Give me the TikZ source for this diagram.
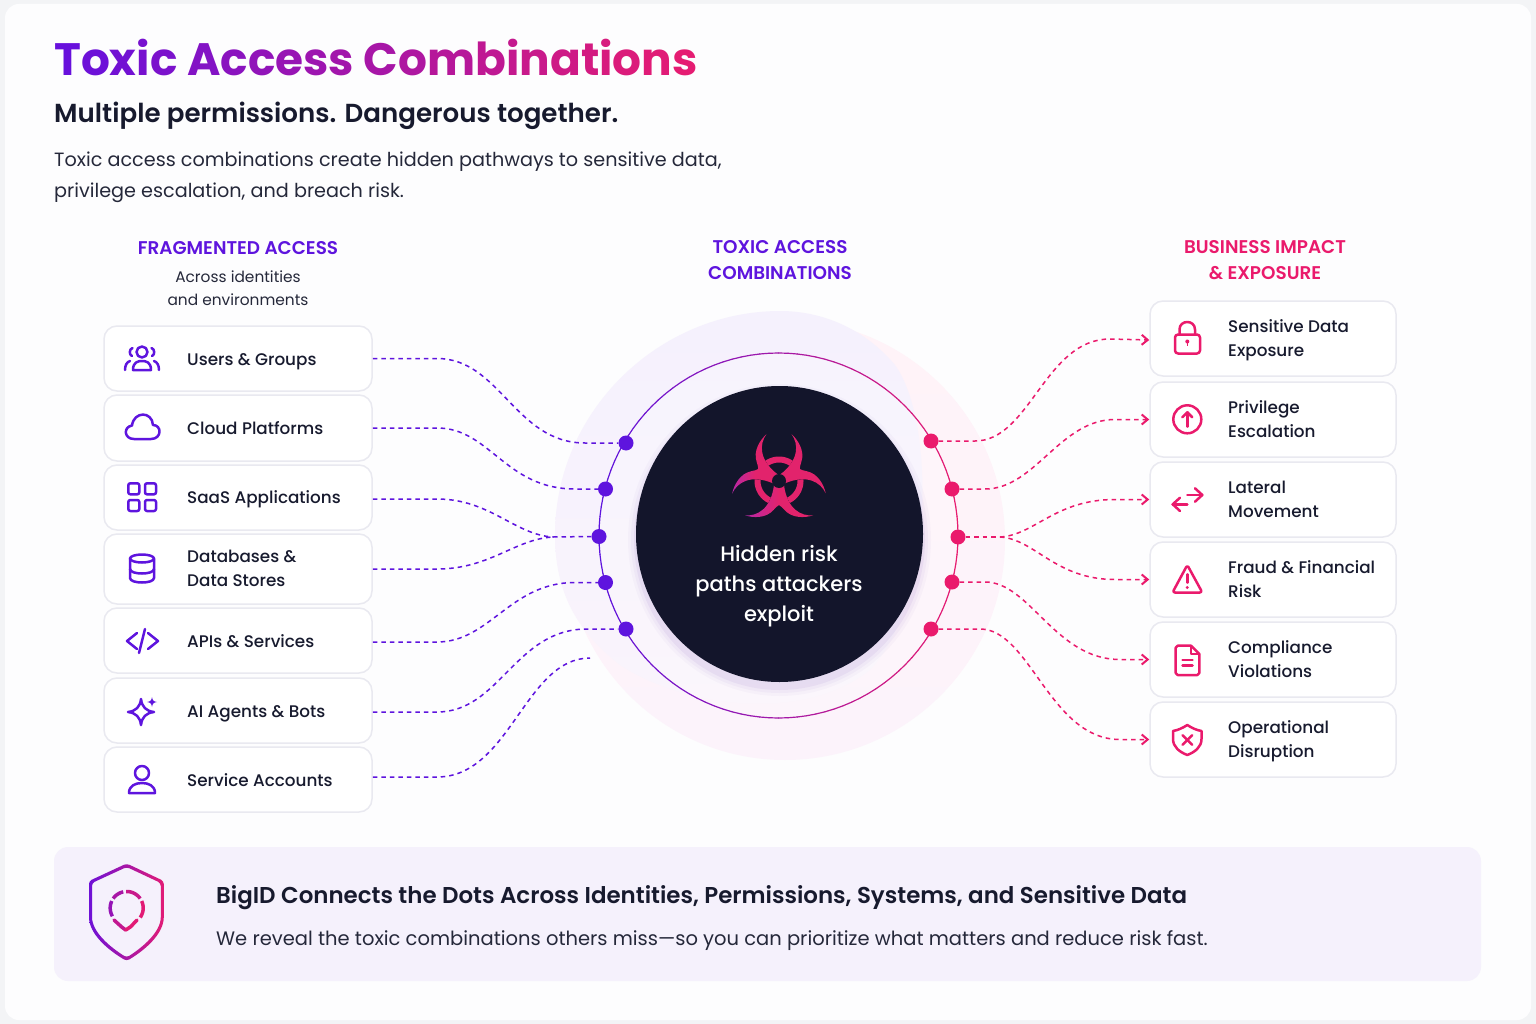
\documentclass[tikz,border=0pt]{standalone}
\usepackage{fontspec}
\usetikzlibrary{arrows.meta,calc}
\setmainfont{Poppins}
\newfontfamily\fmed{Poppins Medium}
\newfontfamily\fsemi{Poppins SemiBold}
\definecolor{pageb}{HTML}{F3F4F6}
\definecolor{cardb}{HTML}{FDFDFE}
\definecolor{ppl}{HTML}{5E14DE}
\definecolor{pnk}{HTML}{EA1A6C}
\definecolor{tstart}{HTML}{6810DC}
\definecolor{tend}{HTML}{E81C70}
\definecolor{ink}{HTML}{171A2E}
\definecolor{body}{HTML}{25283A}
\definecolor{boxln}{HTML}{E9E9F0}
\definecolor{panel}{HTML}{F5F1FC}
\definecolor{dark}{HTML}{13152B}
\definecolor{halop}{HTML}{F5F1FD}
\definecolor{halop2}{HTML}{FAF4FC}
\definecolor{halor}{HTML}{FFF3F8}
\definecolor{halob}{HTML}{FCF3FB}
\definecolor{bioa}{HTML}{E2236C}
\definecolor{biob}{HTML}{B828A8}
\newcommand{\tg}[2]{\textcolor{tend!#1!tstart}{#2}}
\newcommand{\fs}[2]{\fontsize{#1}{#2}\selectfont}
\newcommand{\arm}{(-34,34.3) .. controls (-26,37) and (-13,37.5) .. (-5.5,29) .. controls (-3.5,26.5) and (-1.5,25) .. (0,24)
  .. controls (1.5,25) and (3.5,26.5) .. (5.5,29) .. controls (13,37.5) and (26,37) .. (34.3,34.3)
  .. controls (22,35.5) and (8,28) .. (5,4) -- (-5,4) .. controls (-8,28) and (-22,35.5) .. (-34,34.3) -- cycle}
\tikzset{
  boxbase/.style={draw=boxln,fill=white,line width=1.5pt,rounded corners=13pt,inner sep=0pt},
  lab/.style={anchor=west,inner sep=0pt,align=left,text=ink,font=\fmed\fs{16.8}{23.8},execute at begin node=\strut,execute at end node=\strut},
  head/.style={inner sep=0pt,align=center,font=\fsemi\fs{18.4}{26}},
  dotl/.style={circle,fill=ppl,inner sep=0pt,minimum size=15pt},
  dotr/.style={circle,fill=pnk,inner sep=0pt,minimum size=15pt},
  linkl/.style={draw=ppl,line width=1.5pt,dash pattern=on 4.5pt off 4pt},
  linkr/.style={draw=pnk,line width=1.5pt,dash pattern=on 4.5pt off 4pt},
  linka/.style={linkr,-{Straight Barb[length=6pt,width=10pt,line width=2pt]}},
  icl/.style={draw=ppl,line width=2.5pt,line cap=round,line join=round},
  icr/.style={draw=pnk,line width=2.5pt,line cap=round,line join=round},
}
\begin{document}
\begin{tikzpicture}[x=1pt,y=-1pt]
\useasboundingbox (0,0) rectangle (1536,1024);
\fill[pageb] (0,0) rectangle (1536,1024);
\fill[cardb,rounded corners=14pt] (5,4) rectangle (1531,1020);

% halo
\shade[top color=halor,bottom color=halob] (785,320) .. controls (906,320) and (1005,418) .. (1005,540)
  .. controls (1005,662) and (906,760) .. (785,760) .. controls (664,760) and (565,662) .. (565,540)
  .. controls (565,418) and (664,320) .. (785,320) -- cycle;
\shade[top color=halop,bottom color=halop2] (555,535) .. controls (555,410) and (660,311) .. (780,311)
  .. controls (830,311) and (870,335) .. (895,365) .. controls (935,420) and (935,600) .. (870,670)
  .. controls (800,725) and (680,705) .. (620,665) .. controls (575,630) and (555,590) .. (555,535) -- cycle;
\fill[white,opacity=0.2] (778.5,535.5) ellipse[x radius=179pt,y radius=182pt];
% ring
\foreach \a in {0,3,...,357}{
  \pgfmathsetmacro{\pc}{50+50*cos(\a+1.5)}
  \draw[color=tend!\pc!ppl,line width=1.2pt,line cap=round]
    ({778.5+179.5*cos(\a)},{535.5+182.5*sin(\a)}) -- ({778.5+179.5*cos(\a+3)},{535.5+182.5*sin(\a+3)});
}
% centre shadow and disc
\foreach \r/\o in {8/0.025,5/0.03,2/0.05}{
  \fill[color=ppl!70!black,opacity=\o] (779.5,540) ellipse[x radius={(143.5+\r)*1pt},y radius={(148+\r)*1pt}];
}
\fill[dark] (779.5,534) ellipse[x radius=143.5pt,y radius=148pt];

% biohazard
\begin{scope}[shift={(779,481)}]
  \foreach \r in {0,120,240}{
    \begin{scope}[rotate=\r]
      \draw[bioa,line width=6pt] plot[domain=236:304,samples=20] ({21.5*cos(\x)},{21.5*sin(\x)});
    \end{scope}
  }
  \shade[left color=biob,right color=bioa,middle color=bioa] \arm;
  \begin{scope}[rotate=240]
    \shade[left color=biob,right color=bioa,middle color=bioa] \arm;
  \end{scope}
  \begin{scope}[rotate=120]
    \fill[bioa] \arm;
  \end{scope}
  \fill[dark] (0,0) circle[radius=7pt];
\end{scope}
\node[inner sep=0pt,align=center,text=white,font=\fmed\fs{21}{30}] (ctext) at (779,586) {Hidden risk\\paths attackers\\exploit};

% title block
\node[anchor=base west,inner sep=0pt,font=\bfseries\fs{45.4}{50}] (title) at (54,76) {\tg{0}{T}\tg{4}{o}\tg{8}{x}\tg{12}{i}\tg{15}{c} \tg{21}{A}\tg{27}{c}\tg{32}{c}\tg{37}{e}\tg{41}{s}\tg{45}{s} \tg{49}{C}\tg{55}{o}\tg{61}{m}\tg{68}{b}\tg{72}{i}\tg{75}{n}\tg{80}{a}\tg{84}{t}\tg{87}{i}\tg{90}{o}\tg{94}{n}\tg{98}{s}};
\node[anchor=base west,inner sep=0pt,text=ink,font=\fsemi\fs{26.1}{30}] (sub) at (54,123) {Multiple permissions. Dangerous together.};
\node[anchor=base west,inner sep=0pt,text=body,font=\fs{19.2}{31}] (p1) at (54,167) {Toxic access combinations create hidden pathways to sensitive data,};
\node[anchor=base west,inner sep=0pt,text=body,font=\fs{19.2}{31}] (p2) at (54,198) {privilege escalation, and breach risk.};

% column heads
\node[head,text=ppl] (h1) at (238,248.5) {FRAGMENTED ACCESS};
\node[inner sep=0pt,align=center,text=body,font=\fs{15.4}{23}] (h1s) at (238,288) {Across identities\\and environments};
\node[head,text=ppl] (h2) at (780,260.5) {TOXIC ACCESS\\COMBINATIONS};
\node[head,text=pnk] (h3) at (1265,260.5) {BUSINESS IMPACT\\\& EXPOSURE};

% left boxes
\foreach \n/\ya/\yb in {L1/326/391,L2/395/461,L3/465/530,L4/534/604,L5/608/673,L6/678/743,L7/747/812}{
  \node[boxbase,minimum width=268pt,minimum height={(\yb-\ya)*1pt}] (\n) at (238,{(\ya+\yb)/2}) {};
}
\foreach \n/\ya/\yb in {R1/301/376,R2/382/457,R3/462/537,R4/542/617,R5/622/697,R6/702/777}{
  \node[boxbase,minimum width=246pt,minimum height={(\yb-\ya)*1pt}] (\n) at (1273,{(\ya+\yb)/2}) {};
}
\node[lab] (tL1) at (187,361.2) {Users \& Groups};
\node[lab] (tL2) at (187,430.2) {Cloud Platforms};
\node[lab] (tL3) at (187,499.2) {SaaS Applications};
\node[lab] (tL4) at (187,572) {Databases \&\\Data Stores};
\node[lab] (tL5) at (187,643.2) {APIs \& Services};
\node[lab] (tL6) at (187,713.2) {AI Agents \& Bots};
\node[lab] (tL7) at (187,782.2) {Service Accounts};
\node[lab] (tR1) at (1228,341.8) {Sensitive Data\\Exposure};
\node[lab] (tR2) at (1228,422.8) {Privilege\\Escalation};
\node[lab] (tR3) at (1228,502.8) {Lateral\\Movement};
\node[lab] (tR4) at (1228,582.8) {Fraud \& Financial\\Risk};
\node[lab] (tR5) at (1228,662.8) {Compliance\\Violations};
\node[lab] (tR6) at (1228,742.8) {Operational\\Disruption};

% dots
\node[dotl] (DL1) at (626,443) {};
\node[dotl] (DL2) at (605.5,489) {};
\node[dotl] (DL3) at (599,536.5) {};
\node[dotl] (DL4) at (605.5,582.5) {};
\node[dotl] (DL5) at (626,629) {};
\node[dotr] (DR1) at (931,441) {};
\node[dotr] (DR2) at (952,489) {};
\node[dotr] (DR3) at (958,537) {};
\node[dotr] (DR4) at (952,582) {};
\node[dotr] (DR5) at (931,629) {};
\coordinate (mL) at (553,537);
\coordinate (mR) at (1000,537);
\coordinate (freeL) at (590,658);

% connectors left
\path[linkl] (L1.east) -- (437,358.5) .. controls (500,358.5) and (515,443) .. (585,443) -- (DL1.west);
\path[linkl] (L2.east) -- (437,428) .. controls (490,428) and (505,489) .. (575,489) -- (DL2.west);
\path[linkl] ([yshift=-1.5pt]L3.east) -- (437,499) .. controls (490,499) and (515,535) .. (mL);
\path[linkl] (L4.east) -- (437,569) .. controls (490,569) and (515,539) .. (mL);
\path[linkl] (mL) -- (DL3.west);
\path[linkl] ([yshift=-1.5pt]L5.east) -- (437,642) .. controls (490,642) and (510,582.5) .. (575,582.5) -- (DL4.west);
\path[linkl] ([yshift=-1.5pt]L6.east) -- (437,712) .. controls (500,712) and (515,629) .. (587,629) -- (DL5.west);
\path[linkl] ([yshift=2.5pt]L7.east) -- (437,777) .. controls (510,777) and (525,658) .. (freeL);
% connectors right
\path[linka] (DR1.east) -- (975,441) .. controls (1030,441) and (1045,339) .. (1110,339) -- ([yshift=-1.5pt]R1.west);
\path[linka] (DR2.east) -- (985,489) .. controls (1035,489) and (1060,419.5) .. (1115,419.5) -- (R2.west);
\path[linkr] (DR3.east) -- (mR);
\path[linka] (mR) .. controls (1035,535) and (1055,499.5) .. (1115,499.5) -- (R3.west);
\path[linka] (mR) .. controls (1035,539) and (1055,579.5) .. (1115,579.5) -- (R4.west);
\path[linka] (DR4.east) -- (985,582) .. controls (1030,582) and (1055,659.5) .. (1120,659.5) -- (R5.west);
\path[linka] (DR5.east) -- (980,629) .. controls (1030,629) and (1050,739.5) .. (1120,739.5) -- (R6.west);

% left icons
\begin{scope}[shift={(142,359)}]
  \draw[icl] (0,-7) circle[radius=5.5pt];
  \draw[icl] (-9,11) .. controls (-9,3) and (-4,2) .. (0,2) .. controls (4,2) and (9,3) .. (9,11) -- cycle;
  \draw[icl] (-9.5,-11) .. controls (-13,-10) and (-13,-4) .. (-10,-3);
  \draw[icl] (9.5,-11) .. controls (13,-10) and (13,-4) .. (10,-3);
  \draw[icl] (-17,11) .. controls (-17,6) and (-15,3) .. (-12,2);
  \draw[icl] (17,11) .. controls (17,6) and (15,3) .. (12,2);
\end{scope}
\draw[icl] (134,439) -- (151,439) .. controls (162,439) and (162,425) .. (153,425) .. controls (152,411) and (134,411) .. (132,425.5) .. controls (123,427) and (124,439) .. (134,439) -- cycle;
\foreach \x/\y in {128.3/483.3,145/483.3,128.3/500,145/500}{
  \draw[icl,rounded corners=2pt] (\x,\y) rectangle ++(11,11);
}
\begin{scope}[shift={(142,569)}]
  \draw[icl] (0,-10.5) ellipse[x radius=12pt,y radius=4pt];
  \draw[icl] (-12,-10.5) -- (-12,9) .. controls (-12,15) and (12,15) .. (12,9) -- (12,-10.5);
  \draw[icl] (-12,0) .. controls (-12,6) and (12,6) .. (12,0);
\end{scope}
\draw[icl] (137,633) -- (127,641) -- (137,649);
\draw[icl] (145,629) -- (139,653);
\draw[icl] (148,633) -- (158,641) -- (148,649);
\begin{scope}[shift={(141,712)}]
  \draw[icl] (0,-13) .. controls (1,-5) and (5,-1) .. (13,0) .. controls (5,1) and (1,5) .. (0,13) .. controls (-1,5) and (-5,1) .. (-13,0) .. controls (-5,-1) and (-1,-5) .. (0,-13) -- cycle;
\end{scope}
\fill[ppl] (152,697) .. controls (152.5,700.5) and (153.5,701.5) .. (157,702) .. controls (153.5,702.5) and (152.5,703.5) .. (152,707) .. controls (151.5,703.5) and (150.5,702.5) .. (147,702) .. controls (150.5,701.5) and (151.5,700.5) .. (152,697) -- cycle;
\draw[icl] (142,773) circle[radius=7pt];
\draw[icl] (129,793) .. controls (129,786) and (135,783) .. (142,783) .. controls (149,783) and (155,786) .. (155,793) -- cycle;

% right icons
\draw[icr,rounded corners=3pt] (1175,334.5) rectangle (1200,353.5);
\draw[icr] (1179.5,334) -- (1179.5,329.5) .. controls (1179.5,319.5) and (1195,319.5) .. (1195,329.5) -- (1195,334);
\fill[pnk] (1187.3,341.5) circle[radius=2pt];
\draw[pnk,line width=1.6pt] (1187.3,341.5) -- (1187.3,346);
\draw[icr] (1187.3,419.3) circle[radius=14pt];
\draw[icr] (1187.3,426.7) -- (1187.3,412.3);
\draw[icr] (1182.3,417.3) -- (1187.3,412.3) -- (1192.3,417.3);
\draw[icr] (1187.3,495) -- (1202.3,495);
\draw[icr] (1195,488.3) -- (1202.3,495) -- (1195,501.7);
\draw[icr] (1172.7,504.3) -- (1187.3,504.3);
\draw[icr] (1180,497.7) -- (1172.7,504.3) -- (1180,511);
\draw[icr,rounded corners=2.5pt] (1187.3,565) -- (1202.3,592.5) -- (1172.5,592.5) -- cycle;
\draw[icr] (1187.3,574.3) -- (1187.3,582.7);
\fill[pnk] (1187.3,587.5) circle[radius=1.6pt];
\draw[icr] (1191,645.7) -- (1177.7,645.7) -- (1175.7,647.7) -- (1175.7,673) -- (1177.7,675) -- (1197.3,675) -- (1199.3,673) -- (1199.3,654) -- cycle;
\draw[icr] (1191,646) -- (1191,654) -- (1199,654);
\draw[icr] (1182.5,660) -- (1192.5,660);
\draw[icr] (1182.5,665.7) -- (1192.5,665.7);
\draw[icr] (1187.3,725) .. controls (1192,728) and (1196,730) .. (1201.5,731) -- (1201.5,739) .. controls (1201.5,747) and (1195,752) .. (1187.3,755) .. controls (1179.5,752) and (1173,747) .. (1173,739) -- (1173,731) .. controls (1178.5,730) and (1182.5,728) .. (1187.3,725) -- cycle;
\draw[icr] (1182.5,735.2) -- (1192.1,744.8);
\draw[icr] (1192.1,735.2) -- (1182.5,744.8);

% bottom panel
\node[inner sep=0pt,fill=panel,rounded corners=14pt,minimum width=1427pt,minimum height=134pt] (panelb) at (767.5,914) {};
\begin{scope}[even odd rule,rounded corners=3pt]
  \clip
    (126.7,863.5) -- (163.8,881) -- (163.8,914) .. controls (163.8,934) and (145,950) .. (126.7,961)
    .. controls (108,950) and (89,934) .. (89,914) -- (89,881) -- cycle
    (126.7,867) -- (160.8,883) -- (160.8,914) .. controls (160.8,932) and (143,947) .. (126.7,957.5)
    .. controls (110,947) and (92,932) .. (92,914) -- (92,883) -- cycle;
  \shade[left color=tstart,right color=tend] (85,860) rectangle (168,965);
\end{scope}
\begin{scope}[shift={(126.7,908)}]
  \draw[color=tend!35!tstart,line width=3.5pt] plot[domain=150:205,samples=12] ({16.5*cos(\x)},{16.5*sin(\x)});
  \draw[color=tend!50!tstart,line width=3.5pt] plot[domain=215:258,samples=12] ({16.5*cos(\x)},{16.5*sin(\x)});
  \draw[color=tend!75!tstart,line width=3.5pt] plot[domain=268:325,samples=12] ({16.5*cos(\x)},{16.5*sin(\x)});
  \draw[color=tend!95!tstart,line width=3.5pt] plot[domain=335:395,samples=12] ({16.5*cos(\x)},{16.5*sin(\x)});
\end{scope}
\draw[color=tend!70!tstart,line width=3.5pt,line join=round,line cap=round] (114,920) -- (121.7,927) -- (125.7,930);
\draw[color=tend!95!tstart,line width=3.5pt,line join=round,line cap=round] (125.7,930) -- (130.7,926.7) -- (137,920);
\node[anchor=base west,inner sep=0pt,text=ink,font=\fsemi\fs{22.93}{28}] (bh) at (216,903) {BigID Connects the Dots Across Identities, Permissions, Systems, and Sensitive Data};
\node[anchor=base west,inner sep=0pt,text=body,font=\fs{19.5}{26}] (bs) at (216,945) {We reveal the toxic combinations others miss—so you can prioritize what matters and reduce risk fast.};
\end{tikzpicture}
\end{document}
